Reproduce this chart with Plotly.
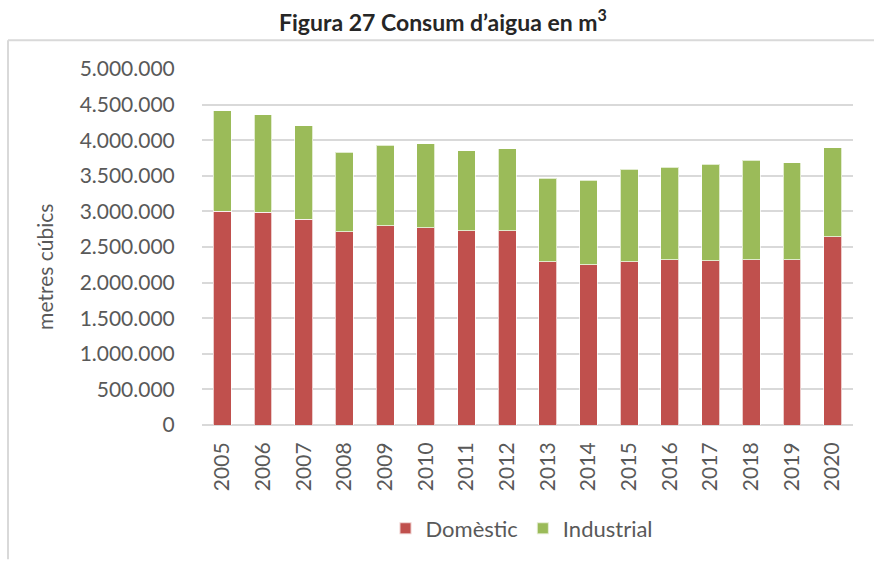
import plotly.graph_objects as go

years = ["2005", "2006", "2007", "2008", "2009", "2010", "2011", "2012",
         "2013", "2014", "2015", "2016", "2017", "2018", "2019", "2020"]
domestic = [3003000, 2989000, 2891000, 2714000, 2798000, 2770000, 2728000, 2728000,
            2295000, 2249000, 2295000, 2323000, 2309000, 2323000, 2318000, 2644000]
industrial = [1410000, 1369000, 1313000, 1117000, 1131000, 1178000, 1122000, 1155000,
              1173000, 1191000, 1299000, 1299000, 1350000, 1392000, 1365000, 1250000]
y_ticks = [0, 500000, 1000000, 1500000, 2000000, 2500000, 3000000, 3500000, 4000000, 4500000, 5000000]

W, H = 874, 562
PL, PR, PT, PB = 202, 853, 69, 427  # plot area in page pixels
L, T, R, B = PL, PT, W - PR, H - PB
pw, ph = W - L - R, H - T - B


def px(xw):  # page x -> paper x
    return (xw - L) / pw


def py(yw):  # page y -> paper y
    return (H - B - yw) / ph


font = "Lato, 'Open Sans', sans-serif"
tcol = "#595959"

fig = go.Figure()
fig.add_trace(go.Bar(x=years, y=domestic, name="Domèstic",
                     marker=dict(color="#C0504D", line=dict(color="rgba(255,255,255,0.7)", width=1))))
fig.add_trace(go.Bar(x=years, y=industrial, name="Industrial",
                     marker=dict(color="#9BBB59", line=dict(color="rgba(255,255,255,0.7)", width=1))))

fig.update_layout(
    width=W, height=H,
    margin=dict(l=L, r=R, t=T, b=B),
    barmode="stack", bargap=0.56,
    paper_bgcolor="white", plot_bgcolor="white",
    separators=",.",
    font=dict(family=font, color=tcol, size=21),
    showlegend=True,
    legend=dict(orientation="h", x=px(522), xanchor="center",
                y=py(531), yanchor="middle",
                font=dict(size=22, color=tcol), itemsizing="constant",
                traceorder="normal", bgcolor="rgba(0,0,0,0)"),
    title=dict(text="<b>Figura 27 Consum d’aigua en m<sup>3</sup></b>",
               x=443 / W, xanchor="center", y=1 - 23 / H, yanchor="middle",
               font=dict(family=font, size=23, color="#262626")),
)

fig.update_yaxes(range=[0, 5000000], tickvals=y_ticks, tickformat=",d",
                 showgrid=True, gridcolor="#d9d9d9", gridwidth=2,
                 zeroline=True, zerolinecolor="#d9d9d9", zerolinewidth=2,
                 ticks="outside", ticklen=22, tickcolor="rgba(0,0,0,0)",
                 tickfont=dict(size=21, color=tcol), showline=False)
fig.update_xaxes(tickangle=-90, ticks="outside", ticklen=8, tickcolor="rgba(0,0,0,0)",
                 tickfont=dict(size=21, color=tcol), showline=False, showgrid=False)

fig.add_annotation(text="metres cúbics", textangle=-90, xref="paper", yref="paper",
                   x=px(45), y=py(268), xanchor="center", yanchor="middle",
                   showarrow=False, font=dict(size=21, color=tcol))

# chart frame: left and top edges (right/bottom lie outside the picture)
fig.add_shape(type="line", xref="paper", yref="paper",
              x0=px(8), x1=px(8), y0=py(562), y1=py(40),
              line=dict(color="#d9d9d9", width=2), layer="below")
fig.add_shape(type="line", xref="paper", yref="paper",
              x0=px(8), x1=px(874), y0=py(40), y1=py(40),
              line=dict(color="#d9d9d9", width=2), layer="below")

fig.write_html(
    "out.html",
    config={"displayModeBar": False},
    post_script="document.body.style.margin='0';document.documentElement.style.overflow='hidden';",
)
